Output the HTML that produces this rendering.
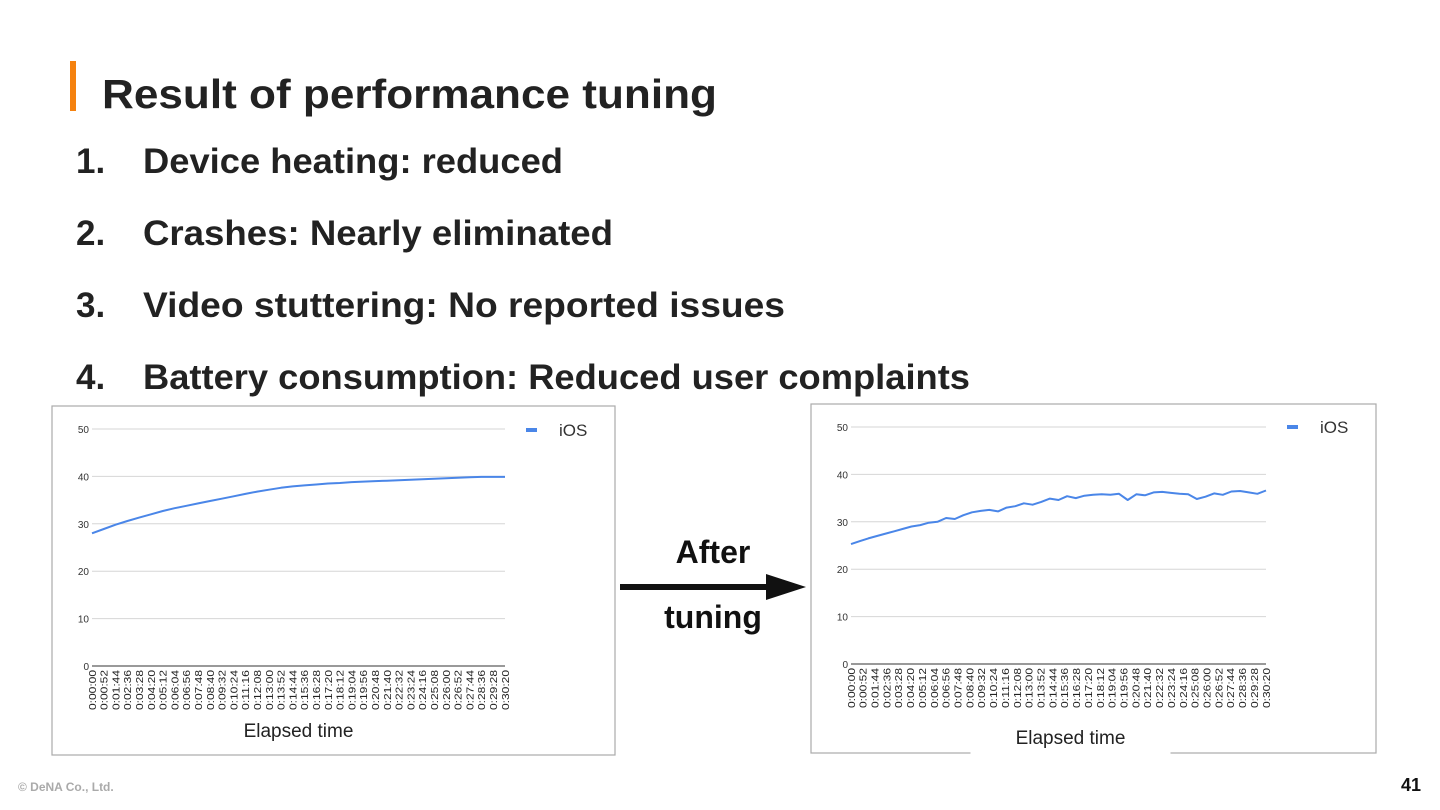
<!DOCTYPE html>
<html><head><meta charset="utf-8"><style>
html,body{margin:0;padding:0;background:#fff;}
svg{display:block;font-family:"Liberation Sans",sans-serif;}
</style></head><body>
<svg id="slide" width="1440" height="810" viewBox="0 0 1440 810">
<rect x="70" y="61" width="6" height="50" fill="#f5820f"/>
<text x="102" y="108" font-size="41" font-weight="bold" fill="#222" textLength="615" lengthAdjust="spacingAndGlyphs">Result of performance tuning</text>
<g font-size="35" font-weight="bold" fill="#222">
<text x="76" y="173">1.</text>
<text x="143" y="173" textLength="420" lengthAdjust="spacingAndGlyphs">Device heating: reduced</text>
<text x="76" y="245">2.</text>
<text x="143" y="245" textLength="470" lengthAdjust="spacingAndGlyphs">Crashes: Nearly eliminated</text>
<text x="76" y="317">3.</text>
<text x="143" y="317" textLength="642" lengthAdjust="spacingAndGlyphs">Video stuttering: No reported issues</text>
<text x="76" y="389">4.</text>
<text x="143" y="389" textLength="827" lengthAdjust="spacingAndGlyphs">Battery consumption: Reduced user complaints</text>
</g>
<g id="chart1"></g>
<g id="chart2"></g>
<g>
<line x1="620" y1="587" x2="770" y2="587" stroke="#111" stroke-width="6"/>
<polygon points="766,574 806,587 766,600" fill="#111"/>
</g>
<text x="713" y="563" font-size="32" font-weight="bold" fill="#111" text-anchor="middle">After</text>
<text x="713" y="628" font-size="32" font-weight="bold" fill="#111" text-anchor="middle">tuning</text>
<text x="18" y="791" font-size="12" font-weight="bold" fill="#aaa">© DeNA Co., Ltd.</text>
<text x="1421" y="791" font-size="18" font-weight="bold" fill="#111" text-anchor="end">41</text>
</svg>
<script>
const tickLabels = ["0:00:00","0:00:52","0:01:44","0:02:36","0:03:28","0:04:20","0:05:12","0:06:04","0:06:56","0:07:48","0:08:40","0:09:32","0:10:24","0:11:16","0:12:08","0:13:00","0:13:52","0:14:44","0:15:36","0:16:28","0:17:20","0:18:12","0:19:04","0:19:56","0:20:48","0:21:40","0:22:32","0:23:24","0:24:16","0:25:08","0:26:00","0:26:52","0:27:44","0:28:36","0:29:28","0:30:20"];
const yTicks = [0,10,20,30,40,50];
const beforeValues = [28,28.9,29.8,30.6,31.3,32.0,32.7,33.3,33.8,34.3,34.8,35.3,35.8,36.3,36.8,37.2,37.6,37.9,38.1,38.3,38.5,38.6,38.8,38.9,39.0,39.1,39.2,39.3,39.4,39.5,39.6,39.7,39.8,39.9,39.9,39.9];
const afterValues = [25.3,25.9,26.5,27.0,27.5,28.0,28.5,29.0,29.3,29.8,30.0,30.8,30.6,31.4,32.0,32.3,32.5,32.2,33.0,33.3,33.9,33.6,34.2,34.9,34.6,35.4,35.0,35.5,35.7,35.8,35.7,35.9,34.6,35.8,35.6,36.2,36.3,36.1,35.9,35.8,34.8,35.3,36.0,35.7,36.4,36.5,36.2,35.9,36.6];
const NS="http://www.w3.org/2000/svg";
function mk(parent,tag,attrs){const e=document.createElementNS(NS,tag);for(const k in attrs)e.setAttribute(k,attrs[k]);parent.appendChild(e);return e;}
function drawChart(g,box,plot,values,legendY,titleGap){
  const x0=plot.x0,x1=plot.x1,yb=plot.yb,yt=plot.yt;
  const ys=v=>yb-(v/50)*(yb-yt);
  const border=mk(g,'rect',{x:box.x,y:box.y,width:box.w,height:box.h,fill:'#fff',stroke:'#aaa','stroke-width':1.2});
  
  
  yTicks.forEach(t=>{
    const ln=mk(g,'line',{x1:x0,x2:x1,y1:ys(t),y2:ys(t),stroke:t===0?'#333':'#d6d6d6','stroke-width':1});
    
    
    const tx=mk(g,'text',{x:x0-3,y:ys(t)+4,'font-size':10,fill:'#333','text-anchor':'end'});
    tx.textContent=t;
    
    
  });
  const n=tickLabels.length;
  tickLabels.forEach((l,i)=>{
    const x=x0+(x1-x0)*i/(n-1);
    const tx=mk(g,'text',{x:0,y:0,'font-size':10.5,fill:'#222','text-anchor':'end',textLength:40,lengthAdjust:'spacingAndGlyphs',transform:`translate(${x+3.8},${yb+4}) rotate(-90)`});
    tx.textContent=l;
    
    
  });
  const m=values.length;
  const pts=values.map((v,i)=>`${(x0+(x1-x0)*i/(m-1)).toFixed(1)},${ys(v).toFixed(1)}`).join(' ');
  const pl=mk(g,'polyline',{points:pts,fill:'none',stroke:'#4a86e8','stroke-width':2,'stroke-linejoin':'round'});
  
  
  const lg=mk(g,'rect',{x:box.x+box.w-89,y:legendY-2,width:11,height:4,fill:'#4a86e8'});
  
  
  const lt=mk(g,'text',{x:box.x+box.w-56,y:legendY+6,'font-size':17,fill:'#333'});
  lt.textContent='iOS';
  
  
  let cx=(x0+x1)/2;
  if(titleGap){
    cx+=12;
    const gap=mk(g,'rect',{x:cx-100,y:box.y+box.h-3,width:200,height:6,fill:'#fff'});
    
    
  }
  const at=mk(g,'text',{x:cx,y:titleGap?box.y+box.h-9:box.y+box.h-18,'font-size':19,fill:'#222','text-anchor':'middle'});
  at.textContent='Elapsed time';
  
  
}
drawChart(document.getElementById('chart1'),{x:52,y:406,w:563,h:349},{x0:92,x1:505,yb:666,yt:429},beforeValues,430,false);
drawChart(document.getElementById('chart2'),{x:811,y:404,w:565,h:349},{x0:851,x1:1266,yb:664,yt:427},afterValues,427,true);
</script>
</body></html>
